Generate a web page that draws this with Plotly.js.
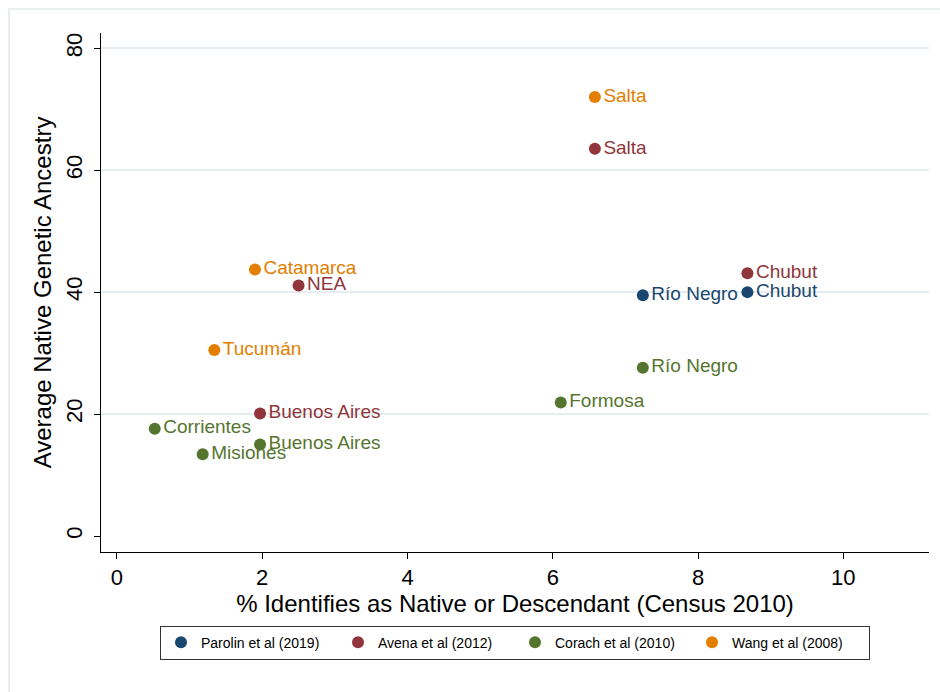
<!DOCTYPE html>
<html>
<head>
<meta charset="utf-8">
<script src="https://cdn.plot.ly/plotly-3.0.1.min.js"></script>
<style>
  html, body { margin: 0; padding: 0; background: #ffffff; }
  #chart { width: 940px; height: 692px; }
</style>
</head>
<body>
<div id="chart"></div>
<script>
// ---- data ----
const seriesNames = ["Parolin et al (2019)", "Avena et al (2012)", "Corach et al (2010)", "Wang et al (2008)"];
const seriesColors = ["#1a476f", "#90353b", "#55752f", "#e37e00"];

const parolinRegions = ["Río Negro", "Chubut"];
const parolinX = [7.24, 8.68];
const parolinY = [39.5, 40.0];

const avenaRegions = ["Salta", "NEA", "Buenos Aires", "Chubut"];
const avenaX = [6.58, 2.50, 1.97, 8.68];
const avenaY = [63.5, 41.1, 20.1, 43.1];

const corachRegions = ["Corrientes", "Misiones", "Buenos Aires", "Formosa", "Río Negro"];
const corachX = [0.52, 1.18, 1.97, 6.11, 7.24];
const corachY = [17.6, 13.4, 15.0, 21.9, 27.6];

const wangRegions = ["Salta", "Catamarca", "Tucumán"];
const wangX = [6.58, 1.90, 1.34];
const wangY = [72.0, 43.7, 30.5];

const xTicks = [0, 2, 4, 6, 8, 10];
const yTicks = [0, 20, 40, 60, 80];
const yGrid = [20, 40, 60, 80];

const xTitle = "% Identifies as Native or Descendant (Census 2010)";
const yTitle = "Average Native Genetic Ancestry";

// ---- traces ----
const FONT = "Liberation Sans, Arial, Helvetica, sans-serif";
const seriesData = [
  [parolinX, parolinY, parolinRegions],
  [avenaX, avenaY, avenaRegions],
  [corachX, corachY, corachRegions],
  [wangX, wangY, wangRegions]
];

const traces = seriesData.map((s, i) => ({
  type: "scatter",
  mode: "markers+text",
  x: s[0],
  y: s[1],
  text: s[2],
  textposition: "middle right",
  textfont: { family: FONT, size: 19, color: seriesColors[i] },
  marker: { size: 12, color: seriesColors[i] },
  name: seriesNames[i],
  cliponaxis: false,
  hoverinfo: "x+y+text"
}));

const layout = {
  width: 940,
  height: 692,
  margin: { l: 101, r: 11, t: 33, b: 140 },
  paper_bgcolor: "#ffffff",
  plot_bgcolor: "#ffffff",
  font: { family: FONT, color: "#000000" },
  showlegend: true,
  xaxis: {
    range: [-0.22, 11.18],
    tickvals: xTicks,
    ticktext: xTicks.map(String),
    ticks: "outside",
    ticklen: 6,
    tickwidth: 1,
    tickcolor: "#000000",
    showline: true,
    linecolor: "#000000",
    linewidth: 1,
    showgrid: false,
    zeroline: false,
    tickfont: { family: FONT, size: 22, color: "#000000" },
    title: { text: xTitle, font: { family: FONT, size: 24, color: "#000000" }, standoff: 4 },
    automargin: false
  },
  yaxis: {
    range: [-2.62, 82.5],
    tickvals: yTicks,
    ticktext: yTicks.map(String),
    tickangle: -90,
    ticks: "outside",
    ticklen: 6,
    tickwidth: 1,
    tickcolor: "#000000",
    ticklabelstandoff: 3,
    showline: true,
    linecolor: "#000000",
    linewidth: 1,
    showgrid: false,
    zeroline: false,
    tickfont: { family: FONT, size: 22, color: "#000000" },
    title: { text: yTitle, font: { family: FONT, size: 24, color: "#000000" }, standoff: 3 },
    automargin: false
  },
  yaxis2: {
    overlaying: "y",
    range: [-2.62, 82.5],
    tickvals: yGrid,
    showgrid: true,
    gridcolor: "#e6edf2",
    gridwidth: 1.5,
    showticklabels: false,
    ticks: "",
    showline: false,
    zeroline: false
  },
  legend: {
    orientation: "h",
    x: 0.5,
    xanchor: "center",
    y: -0.142,
    yanchor: "top",
    bordercolor: "#333333",
    borderwidth: 1,
    bgcolor: "#ffffff",
    entrywidth: 132,
    font: { family: FONT, size: 14, color: "#000000" }
  },
  shapes: [{
    type: "rect",
    xref: "paper", yref: "paper",
    x0: -0.1111, x1: 1.03, y0: -0.3, y1: 1.0462,
    line: { color: "#e3eaee", width: 1.5 },
    fillcolor: "rgba(0,0,0,0)",
    layer: "below"
  }]
};

// invisible helper trace to activate yaxis2 for gridlines
traces.push({
  type: "scatter", x: [null], y: [null], yaxis: "y2",
  showlegend: false, hoverinfo: "skip", mode: "markers"
});

Plotly.newPlot("chart", traces, layout, { displayModeBar: false, staticPlot: true });
</script>
</body>
</html>
